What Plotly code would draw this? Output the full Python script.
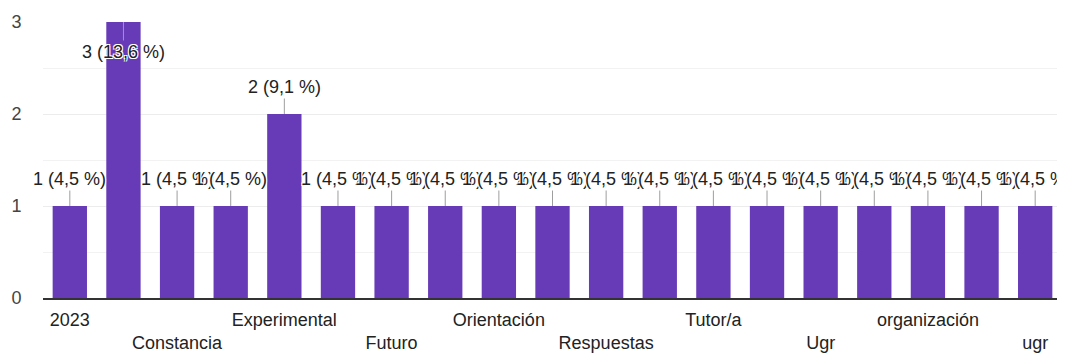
import plotly.graph_objects as go

# categories (only every other label is readable in the chart)
categories = ['2023', 'Becas', 'Constancia', 'Docencia', 'Experimental', 'Formación',
              'Futuro', 'Grado', 'Orientación', 'Prácticas', 'Respuestas', 'Trabajo',
              'Tutor/a', 'Tutorías', 'Ugr', 'información', 'organización', 'prácticas', 'ugr']
counts = [1, 3, 1, 1, 2, 1, 1, 1, 1, 1, 1, 1, 1, 1, 1, 1, 1, 1, 1]
shown_labels = ['2023', 'Constancia', 'Experimental', 'Futuro', 'Orientación',
                'Respuestas', 'Tutor/a', 'Ugr', 'organización', 'ugr']
y_ticks = [0, 1, 2, 3]

total = sum(counts)
purple = '#673ab7'
font = 'Arial, "Liberation Sans", sans-serif'

fig = go.Figure(go.Bar(x=categories, y=counts, marker=dict(color=purple, line=dict(width=0)),
                       hoverinfo='skip'))

# alternate the visible tick labels on two rows, like google charts does
tick_text = [('' if i % 2 == 0 else '<br>') + lab for i, lab in enumerate(shown_labels)]

halo = 'white 1px 1px 0px, white -1px -1px 0px, white 1px -1px 0px, white -1px 1px 0px'
for i, v in enumerate(counts):
    pct = f'{100 * v / total:.1f}'.replace('.', ',')
    top = v >= max(y_ticks)
    # use the category index: '2023' would otherwise be read as a number
    fig.add_annotation(
        x=i, y=v, text=f'{v} ({pct} %)',
        showarrow=True, arrowhead=0, arrowwidth=1, arrowcolor='#9e9e9e',
        ax=0, ay=30 if top else -27,
        font=dict(family=font, size=18, color='#222', shadow=halo),
    )

# page body has an 8px margin, so the figure is shifted to compensate
fig.update_layout(
    width=1057, height=348,
    margin=dict(l=33, r=3, t=14, b=58),
    paper_bgcolor='white', plot_bgcolor='white',
    bargap=0.36, showlegend=False,
    font=dict(family=font, size=18, color='#333'),
    xaxis=dict(
        type='category', tickmode='array',
        tickvals=categories[::2], ticktext=tick_text,
        showgrid=False, showline=True, linecolor='#333', linewidth=2,
        ticks='outside', ticklen=4, tickcolor='rgba(0,0,0,0)',
        tickfont=dict(size=18, color='#222'),
        range=[-0.5, len(categories) - 0.5],
    ),
    yaxis=dict(
        range=[0, 3], tickvals=y_ticks, ticktext=[str(t) for t in y_ticks],
        showgrid=True, gridcolor='#ececec', zeroline=False,
        ticks='outside', ticklen=17, tickcolor='rgba(0,0,0,0)',
        tickfont=dict(size=18, color='#444'),
        minor=dict(dtick=0.5, showgrid=True, gridcolor='#f2f2f2'),
    ),
)

fig.write_html('out.html')
